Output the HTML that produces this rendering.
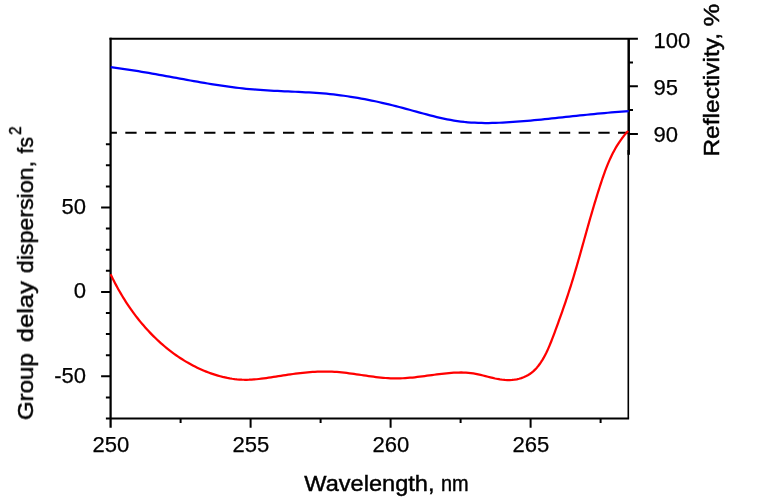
<!DOCTYPE html>
<html><head><meta charset="utf-8"><title>Chart</title>
<style>html,body{margin:0;padding:0;background:#fff;}svg{display:block}</style></head>
<body><svg width="757" height="500" viewBox="0 0 757 500">
<rect width="757" height="500" fill="#fff"/>
<line x1="628.3" y1="150" x2="628.3" y2="418.5" stroke="#000" stroke-width="1.6"/>
<line x1="110.6" y1="132.8" x2="628.7" y2="132.8" stroke="#000" stroke-width="2" stroke-dasharray="11.3 8.41" stroke-dashoffset="5.0"/>
<path d="M105.89999999999999,397.4 H110.6 M101.1,376.3 H110.6 M105.89999999999999,355.2 H110.6 M105.89999999999999,334.1 H110.6 M105.89999999999999,313.0 H110.6 M101.1,291.9 H110.6 M105.89999999999999,270.8 H110.6 M105.89999999999999,249.7 H110.6 M105.89999999999999,228.6 H110.6 M101.1,207.5 H110.6 M105.89999999999999,186.4 H110.6 M105.89999999999999,165.3 H110.6 M105.89999999999999,144.2 H110.6 M180.6,418.5 V422.9 M250.6,418.5 V427.7 M320.6,418.5 V422.9 M390.6,418.5 V427.7 M460.6,418.5 V422.9 M530.6,418.5 V427.7 M600.6,418.5 V422.9 M628.7,62.5 H633.0 M628.7,86.2 H637.9000000000001 M628.7,109.9 H633.0 M628.7,133.9 H637.9000000000001" fill="none" stroke="#000" stroke-width="2"/>
<path d="M110.6,37.8 V427.7" fill="none" stroke="#000" stroke-width="2.25"/>
<path d="M105.89999999999999,418.5 H629.1" fill="none" stroke="#000" stroke-width="2.1"/>
<path d="M109.5,38.8 H637.9000000000001" fill="none" stroke="#000" stroke-width="2.05"/>
<path d="M628.7,38.8 V154.8" fill="none" stroke="#000" stroke-width="2.5"/>
<path d="M110.74,67.22 L114.18,67.64 L117.62,68.09 L121.07,68.56 L124.52,69.05 L127.97,69.56 L131.42,70.09 L134.87,70.64 L138.33,71.20 L141.78,71.77 L145.24,72.35 L148.70,72.95 L152.16,73.56 L155.63,74.17 L159.09,74.79 L162.56,75.42 L166.03,76.05 L169.50,76.69 L172.97,77.32 L176.44,77.96 L179.91,78.60 L183.39,79.23 L186.86,79.86 L190.34,80.49 L193.82,81.11 L197.30,81.72 L200.78,82.32 L204.26,82.92 L207.75,83.50 L211.23,84.07 L214.71,84.62 L218.20,85.16 L221.69,85.69 L225.18,86.19 L228.67,86.68 L232.16,87.14 L235.65,87.59 L239.14,88.00 L242.63,88.40 L246.13,88.77 L249.62,89.11 L253.11,89.42 L256.61,89.71 L260.11,89.96 L263.60,90.20 L267.10,90.41 L270.60,90.61 L274.09,90.79 L277.59,90.97 L281.09,91.13 L284.59,91.28 L288.08,91.44 L291.58,91.59 L295.07,91.75 L298.57,91.91 L302.06,92.08 L305.56,92.26 L309.05,92.45 L312.54,92.66 L316.03,92.89 L319.52,93.15 L323.01,93.42 L326.50,93.73 L329.98,94.07 L333.47,94.44 L336.95,94.85 L340.43,95.28 L343.90,95.75 L347.38,96.25 L350.85,96.77 L354.32,97.33 L357.79,97.92 L361.26,98.53 L364.72,99.18 L368.18,99.85 L371.64,100.54 L375.10,101.27 L378.55,102.01 L382.00,102.79 L385.44,103.58 L388.88,104.41 L392.32,105.25 L395.76,106.12 L399.19,107.00 L402.62,107.91 L406.04,108.84 L409.46,109.77 L412.88,110.72 L416.30,111.66 L419.72,112.60 L423.13,113.53 L426.55,114.44 L429.96,115.34 L433.38,116.20 L436.80,117.04 L440.22,117.84 L443.65,118.59 L447.08,119.30 L450.51,119.96 L453.95,120.56 L457.39,121.09 L460.84,121.55 L464.30,121.95 L467.76,122.27 L471.22,122.54 L474.69,122.74 L478.17,122.88 L481.65,122.98 L485.14,123.02 L488.62,123.01 L492.12,122.96 L495.61,122.88 L499.11,122.75 L502.61,122.59 L506.12,122.41 L509.62,122.19 L513.13,121.96 L516.64,121.70 L520.15,121.43 L523.67,121.14 L527.18,120.84 L530.70,120.53 L534.21,120.21 L537.73,119.87 L541.24,119.53 L544.76,119.18 L548.27,118.82 L551.79,118.46 L555.30,118.09 L558.82,117.72 L562.33,117.34 L565.84,116.97 L569.36,116.59 L572.87,116.22 L576.37,115.84 L579.88,115.47 L583.39,115.11 L586.89,114.75 L590.39,114.39 L593.89,114.05 L597.39,113.71 L600.88,113.38 L604.37,113.06 L607.86,112.75 L611.35,112.46 L614.83,112.18 L618.31,111.92 L621.78,111.67 L625.25,111.44 L628.72,111.23" fill="none" stroke="#0000ff" stroke-width="2.25" stroke-linejoin="round"/>
<path d="M110.62,274.25 L111.66,276.44 L112.73,278.63 L113.83,280.80 L114.94,282.97 L116.08,285.13 L117.24,287.28 L118.42,289.42 L119.63,291.55 L120.86,293.67 L122.11,295.77 L123.39,297.87 L124.68,299.95 L126.01,302.02 L127.35,304.07 L128.72,306.11 L130.10,308.14 L131.52,310.14 L132.95,312.14 L134.41,314.11 L135.89,316.07 L137.39,318.02 L138.92,319.94 L140.46,321.85 L142.03,323.73 L143.63,325.60 L145.24,327.45 L146.88,329.27 L148.54,331.07 L150.22,332.86 L151.92,334.62 L153.65,336.35 L155.40,338.07 L157.17,339.76 L158.96,341.42 L160.78,343.06 L162.62,344.67 L164.48,346.26 L166.36,347.82 L168.26,349.36 L170.19,350.86 L172.14,352.34 L174.11,353.79 L176.10,355.21 L178.12,356.60 L180.15,357.95 L182.21,359.28 L184.29,360.58 L186.39,361.84 L188.51,363.07 L190.66,364.27 L192.83,365.44 L195.01,366.57 L197.22,367.66 L199.45,368.71 L201.70,369.73 L203.96,370.71 L206.24,371.64 L208.54,372.53 L210.85,373.38 L213.17,374.18 L215.51,374.93 L217.86,375.63 L220.22,376.28 L222.59,376.89 L224.97,377.43 L227.36,377.93 L229.76,378.37 L232.17,378.75 L234.58,379.07 L236.99,379.33 L239.42,379.53 L241.84,379.67 L244.27,379.75 L246.69,379.76 L249.12,379.71 L251.56,379.60 L253.99,379.45 L256.42,379.25 L258.86,379.00 L261.29,378.73 L263.73,378.42 L266.17,378.09 L268.61,377.73 L271.05,377.36 L273.49,376.98 L275.93,376.59 L278.37,376.20 L280.81,375.82 L283.25,375.44 L285.69,375.06 L288.13,374.70 L290.56,374.35 L293.00,374.01 L295.44,373.69 L297.88,373.38 L300.32,373.09 L302.76,372.82 L305.20,372.57 L307.64,372.35 L310.08,372.14 L312.52,371.97 L314.96,371.82 L317.40,371.70 L319.83,371.61 L322.27,371.55 L324.71,371.53 L327.15,371.55 L329.59,371.60 L332.03,371.69 L334.47,371.82 L336.90,371.99 L339.34,372.19 L341.78,372.42 L344.22,372.68 L346.66,372.97 L349.09,373.28 L351.53,373.60 L353.97,373.94 L356.41,374.29 L358.84,374.64 L361.28,375.00 L363.72,375.36 L366.16,375.71 L368.59,376.06 L371.03,376.39 L373.47,376.72 L375.90,377.02 L378.34,377.31 L380.78,377.56 L383.21,377.80 L385.65,378.00 L388.09,378.16 L390.52,378.29 L392.96,378.37 L395.40,378.41 L397.83,378.40 L400.27,378.35 L402.70,378.25 L405.14,378.11 L407.57,377.94 L410.01,377.74 L412.45,377.51 L414.88,377.26 L417.32,376.98 L419.75,376.69 L422.19,376.38 L424.62,376.06 L427.06,375.74 L429.49,375.41 L431.93,375.08 L434.36,374.75 L436.79,374.43 L439.23,374.13 L441.66,373.83 L444.10,373.55 L446.53,373.30 L448.97,373.07 L451.40,372.87 L453.83,372.70 L456.27,372.58 L458.70,372.51 L461.13,372.49 L463.57,372.53 L466.00,372.64 L468.43,372.82 L470.87,373.08 L473.30,373.42 L475.73,373.84 L478.16,374.34 L480.59,374.89 L483.03,375.48 L485.46,376.10 L487.89,376.72 L490.32,377.34 L492.74,377.93 L495.17,378.49 L497.59,378.98 L500.02,379.41 L502.44,379.75 L504.86,379.99 L507.27,380.11 L509.69,380.10 L512.08,379.96 L514.46,379.69 L516.81,379.29 L519.12,378.75 L521.38,378.07 L523.59,377.26 L525.73,376.31 L527.81,375.21 L529.80,373.98 L531.71,372.60 L533.53,371.07 L535.25,369.41 L536.88,367.64 L538.43,365.75 L539.90,363.77 L541.29,361.71 L542.62,359.58 L543.88,357.40 L545.07,355.17 L546.21,352.92 L547.29,350.65 L548.33,348.38 L549.32,346.09 L550.28,343.80 L551.21,341.50 L552.11,339.19 L552.99,336.89 L553.85,334.58 L554.71,332.27 L555.57,329.97 L556.42,327.66 L557.26,325.36 L558.10,323.05 L558.93,320.74 L559.76,318.44 L560.58,316.13 L561.40,313.83 L562.21,311.52 L563.02,309.21 L563.82,306.90 L564.61,304.59 L565.40,302.28 L566.18,299.97 L566.96,297.65 L567.72,295.34 L568.48,293.02 L569.24,290.70 L569.98,288.37 L570.72,286.05 L571.45,283.72 L572.17,281.39 L572.89,279.05 L573.60,276.72 L574.30,274.38 L574.99,272.03 L575.69,269.69 L576.37,267.34 L577.05,265.00 L577.73,262.65 L578.40,260.29 L579.07,257.94 L579.74,255.59 L580.41,253.23 L581.07,250.87 L581.73,248.51 L582.39,246.15 L583.05,243.79 L583.71,241.43 L584.37,239.07 L585.03,236.71 L585.68,234.35 L586.35,231.98 L587.01,229.62 L587.67,227.26 L588.34,224.90 L589.01,222.54 L589.68,220.17 L590.36,217.81 L591.04,215.45 L591.73,213.09 L592.42,210.74 L593.11,208.38 L593.81,206.02 L594.51,203.67 L595.22,201.31 L595.94,198.96 L596.66,196.61 L597.38,194.26 L598.12,191.92 L598.86,189.57 L599.60,187.23 L600.36,184.89 L601.12,182.56 L601.89,180.23 L602.68,177.90 L603.48,175.58 L604.30,173.27 L605.14,170.97 L606.01,168.68 L606.90,166.40 L607.81,164.14 L608.76,161.89 L609.74,159.65 L610.75,157.44 L611.80,155.24 L612.89,153.07 L614.03,150.92 L615.20,148.79 L616.42,146.68 L617.70,144.60 L619.02,142.55 L620.40,140.53 L621.83,138.53 L623.33,136.57 L624.88,134.64 L626.50,132.75 L628.18,130.89" fill="none" stroke="#ff0000" stroke-width="2.25" stroke-linejoin="round"/>
<g style="opacity:0.999" stroke="#000" stroke-width="0.25" font-family="'Liberation Sans', sans-serif" font-size="21.5" fill="#000"><text x="86.0" y="213.9" text-anchor="end" textLength="24.5" lengthAdjust="spacingAndGlyphs">50</text>
<text x="86.0" y="298.3" text-anchor="end" textLength="12.3" lengthAdjust="spacingAndGlyphs">0</text>
<text x="86.0" y="382.7" text-anchor="end" textLength="31.8" lengthAdjust="spacingAndGlyphs">-50</text>
<text x="653.6" y="47.6" textLength="36.8" lengthAdjust="spacingAndGlyphs">100</text>
<text x="653.6" y="95.0" textLength="24.5" lengthAdjust="spacingAndGlyphs">95</text>
<text x="653.6" y="142.4" textLength="24.5" lengthAdjust="spacingAndGlyphs">90</text>
<text x="111.0" y="451.5" text-anchor="middle" textLength="36.8" lengthAdjust="spacingAndGlyphs">250</text>
<text x="251.0" y="451.5" text-anchor="middle" textLength="36.8" lengthAdjust="spacingAndGlyphs">255</text>
<text x="391.0" y="451.5" text-anchor="middle" textLength="36.8" lengthAdjust="spacingAndGlyphs">260</text>
<text x="531.0" y="451.5" text-anchor="middle" textLength="36.8" lengthAdjust="spacingAndGlyphs">265</text>
<text y="490.9" font-size="22" stroke-width="0.45"><tspan x="304.3" textLength="130.2" lengthAdjust="spacingAndGlyphs">Wavelength,</tspan><tspan x="441.0" textLength="27.6" lengthAdjust="spacingAndGlyphs">nm</tspan></text>
<text transform="translate(33,419.6) rotate(-90)" font-size="22" stroke-width="0.45"><tspan x="-0.6" textLength="67.0" lengthAdjust="spacingAndGlyphs">Group</tspan><tspan x="77.6" textLength="60.8" lengthAdjust="spacingAndGlyphs">delay</tspan><tspan x="146.6" textLength="112.0" lengthAdjust="spacingAndGlyphs">dispersion,</tspan><tspan x="266.0" textLength="16.6" lengthAdjust="spacingAndGlyphs">fs</tspan><tspan x="284.8" dy="-11.6" font-size="16.5" textLength="8.4" lengthAdjust="spacingAndGlyphs">2</tspan></text>
<text transform="translate(719,157) rotate(-90)" font-size="22" stroke-width="0.45"><tspan x="0.4" textLength="123.6" lengthAdjust="spacingAndGlyphs">Reflectivity,</tspan><tspan x="130.4" textLength="22.8" lengthAdjust="spacingAndGlyphs">%</tspan></text></g>
</svg></body></html>
